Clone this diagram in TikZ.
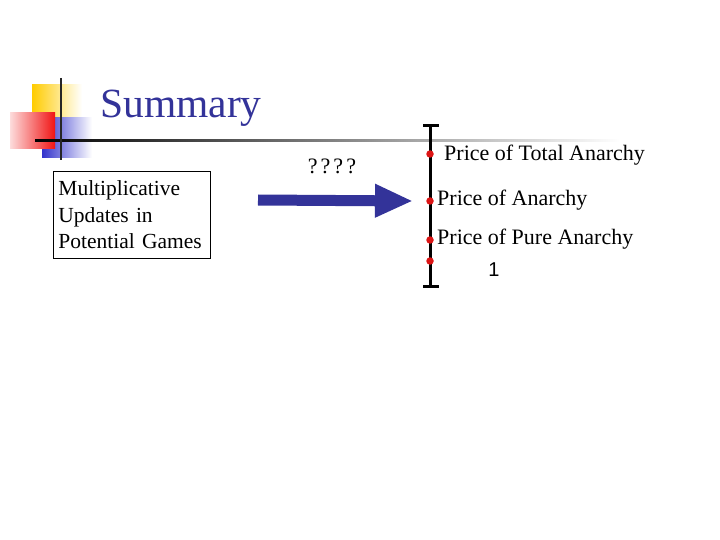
\documentclass[tikz,border=0pt]{standalone}
\usepackage{fontspec}
\setmainfont{Liberation Serif}
\newfontfamily\arialfont{Liberation Sans}
\usetikzlibrary{arrows.meta}
\definecolor{titleblue}{RGB}{51,51,153}
\definecolor{sqyellow}{RGB}{255,204,0}
\definecolor{sqblue}{RGB}{51,51,204}
\definecolor{sqred}{RGB}{240,20,20}
\definecolor{dotred}{RGB}{220,20,20}
\tikzset{
  txt/.style={inner sep=0pt, font=\fontsize{22}{26.5}\selectfont, anchor=west},
  reddot/.style={circle, fill=dotred, inner sep=0pt, minimum size=7.5pt},
  scaleline/.style={line width=3pt, black},
}
\begin{document}
\begin{tikzpicture}[x=1pt,y=-1pt]
\useasboundingbox (0,0) rectangle (720,540);
% decoration squares
\shade[left color=sqyellow, middle color=sqyellow, right color=white] (32,85) rectangle (82,120);
\shade[left color=sqblue, middle color=sqblue, right color=white] (42,118) rectangle (92,158);
\shade[left color=sqred!15, right color=sqred] (10,113) rectangle (55,149);
% deco lines
\shade[left color=black, middle color=black!45, right color=white] (35,139.5) rectangle (620,142);
\draw[line width=2.5pt, black!85] (61,78) -- (61,160);
% title
\node[anchor=base west, inner sep=0pt, text=titleblue, font=\fontsize{41.5}{48}\selectfont] (title) at (100,118) {Summary};
% box
\node[draw, line width=0.8pt, inner sep=5pt, align=left, font=\fontsize{21.5}{26.5}\selectfont, text width=147pt, minimum height=87pt, anchor=north west] (box) at (53,171) {Multiplicative\\Updates in\\Potential Games};
% question marks
\node[inner sep=0pt, font=\fontsize{22}{24}\selectfont] (q) at (332,166) {?\kern3pt?\kern3pt?\kern3pt?};
% scale
\coordinate (top) at (430,126);
\coordinate (bot) at (430,286);
\draw[scaleline] (top) -- (bot);
\draw[scaleline] (423,126) -- (439,126);
\draw[scaleline] (423,286) -- (439,286);
\node[reddot] (d1) at (430,154) {};
\node[reddot] (d2) at (430,201) {};
\node[reddot] (d3) at (430,240) {};
\node[reddot] (d4) at (430,261) {};
% arrow
\coordinate (astart) at (258,200);
\draw[titleblue, line width=11pt, -{Triangle[length=38pt,width=31pt]}] (astart) -- (d2.west -| 413,0);
% labels
\node[txt] (l1) at (444,155) {Price of Total Anarchy};
\node[txt] (l2) at (437,200) {Price of Anarchy};
\node[txt] (l3) at (437,239) {Price of Pure Anarchy};
\node[inner sep=0pt, font=\arialfont\fontsize{20}{24}\selectfont] (one) at (494,270) {1};
\end{tikzpicture}
\end{document}
